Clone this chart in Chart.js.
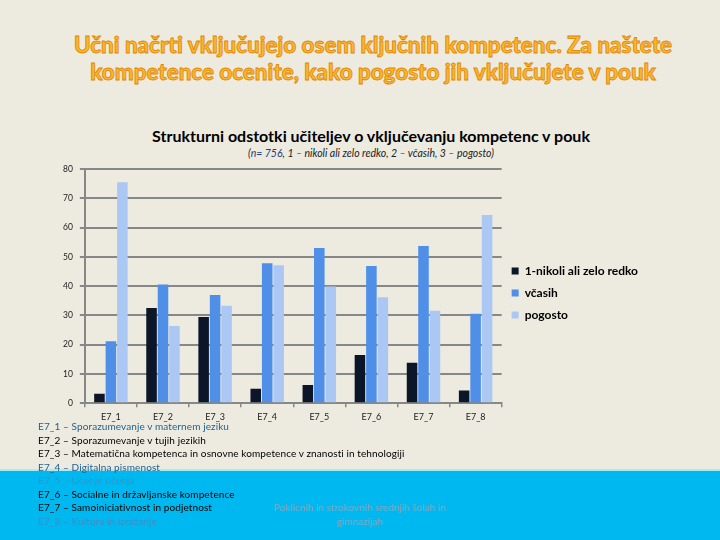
<!DOCTYPE html>
<html>
<head>
<meta charset="utf-8">
<script src="https://cdn.jsdelivr.net/npm/chart.js@4.4.1/dist/chart.umd.min.js"></script>
<style>
    html, body { margin: 0; padding: 0; }
    body { width: 720px; height: 540px; background: #edeae0; position: relative; overflow: hidden; font-family: Lato, sans-serif; }
    .title { position: absolute; left: 0; top: 31px; width: 746px; text-align: center; font-weight: 900; font-size: 22.4px; line-height: 27px; color: #fab530; -webkit-text-stroke: 0.8px #e08600; }
    .ctitle { position: absolute; left: 0; top: 126px; width: 742px; text-align: center; font-weight: bold; font-size: 16px; color: #000; }
    .csub { position: absolute; left: 0; top: 147px; width: 742px; text-align: center; font-style: italic; font-size: 10.5px; color: #222; }
    .csub span { color: #1f3c88; }
    .band { position: absolute; left: 0; top: 469px; width: 720px; height: 71px; background: #00b8f0; border-top: 2px solid #a7ebf7; box-sizing: border-box; }
    .chart-box { position: absolute; left: 56px; top: 157px; width: 592px; height: 269px; }
    .legend-list { position: absolute; left: 38px; top: 420px; font-size: 10px; line-height: 13.5px; letter-spacing: 0.1px; }
    .legend-list div { white-space: nowrap; }
    .footer { position: absolute; left: 240px; top: 500px; width: 240px; text-align: center; font-size: 10px; line-height: 14px; color: #7fa9c2; }
</style>
</head>
<body>
<div class="title">Učni načrti vključujejo osem ključnih kompetenc. Za naštete<br>kompetence ocenite, kako pogosto jih vključujete v pouk</div>
<div class="ctitle">Strukturni odstotki učiteljev o vključevanju kompetenc v pouk</div>
<div class="csub">(<span>n= 756</span>, 1 – nikoli ali zelo redko, 2 – včasih, 3 – pogosto)</div>
<div class="band"></div>
<div class="chart-box"><canvas id="chart"></canvas></div>
<div class="legend-list" id="defs"></div>
<div class="footer">Poklicnih in strokovnih srednjih šolah in<br>gimnazijah</div>
<script>
const categories = ['E7_1', 'E7_2', 'E7_3', 'E7_4', 'E7_5', 'E7_6', 'E7_7', 'E7_8'];
const seriesNames = ['1-nikoli ali zelo redko', 'včasih', 'pogosto'];
const nikoli = [3.2, 32.5, 29.5, 4.9, 6.2, 16.5, 13.8, 4.3];
const vcasih = [21.2, 40.6, 37.0, 47.8, 53.0, 46.9, 53.7, 30.6];
const pogosto = [75.5, 26.4, 33.3, 47.1, 39.9, 36.2, 31.6, 64.3];
const yTicks = [0, 10, 20, 30, 40, 50, 60, 70, 80];
const competences = [
    'Sporazumevanje v maternem jeziku',
    'Sporazumevanje v tujih jezikih',
    'Matematična kompetenca in osnovne kompetence v znanosti in tehnologiji',
    'Digitalna pismenost',
    'Učenje učenja',
    'Socialne in državljanske kompetence',
    'Samoiniciativnost in podjetnost',
    'Kultura in izražanje',
];
const defColors = ['#1f5f8e', '#000', '#000', '#1f5f8e', '#3a8fc8', '#000', '#000', '#3a8fc8'];

document.getElementById('defs').innerHTML = competences.map((c, i) =>
    `<div style="color:${defColors[i]}">${categories[i]} – ${c}</div>`).join('');

const BAR_COLORS = ['#0b1628', '#4f8fe8', '#aac8f3'];
const GRID = '#878787';

new Chart(document.getElementById('chart').getContext('2d'), {
    type: 'bar',
    data: {
        labels: categories,
        datasets: [nikoli, vcasih, pogosto].map((vals, i) => ({
            label: seriesNames[i],
            data: vals,
            backgroundColor: BAR_COLORS[i],
            borderWidth: 0,
            categoryPercentage: 0.66,
            barPercentage: 0.92,
        }))
    },
    options: {
        responsive: true, maintainAspectRatio: false, animation: false,
        devicePixelRatio: 1,
        layout: { padding: 0 },
        plugins: {
            legend: {
                position: 'right',
                // empty title only nudges the items down a little
                title: { display: true, text: ' ', font: { size: 1 }, padding: { top: 1, bottom: 1 } },
                labels: {
                    boxWidth: 7, boxHeight: 7, padding: 10,
                    color: '#000',
                    font: { family: 'Lato', size: 12, weight: 'bold' }
                }
            },
            tooltip: { enabled: false }
        },
        scales: {
            x: {
                grid: { display: true, drawOnChartArea: false, drawTicks: true, tickLength: 4, color: GRID, lineWidth: 1.5 },
                border: { color: GRID, width: 2 },
                ticks: { color: '#222', font: { family: 'Lato', size: 9 }, padding: 4 }
            },
            y: {
                min: 0, max: 80,
                afterBuildTicks: axis => { axis.ticks = yTicks.map(v => ({ value: v })); },
                grid: { color: GRID, lineWidth: 2, tickLength: 5 },
                border: { color: GRID, width: 2 },
                ticks: { color: '#222', font: { family: 'Lato', size: 8.5 }, padding: 7 }
            }
        }
    }
});
</script>
</body>
</html>
